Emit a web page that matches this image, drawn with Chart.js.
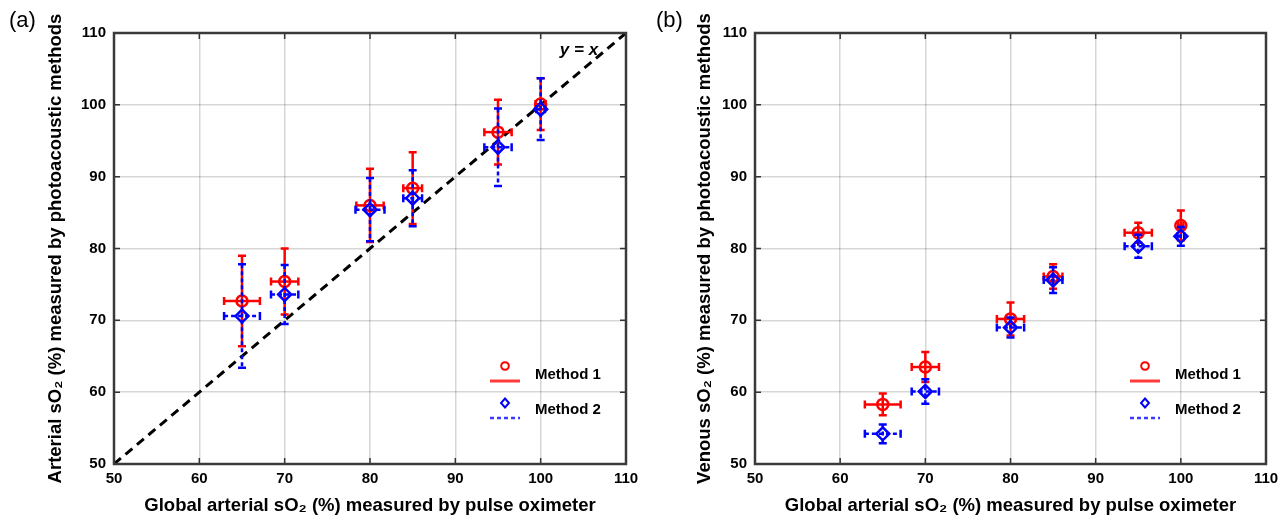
<!DOCTYPE html>
<html><head><meta charset="utf-8">
<script src="https://cdn.jsdelivr.net/npm/chart.js@4.4.1/dist/chart.umd.min.js"></script>
<style>
html,body{margin:0;padding:0;background:#fff;width:1282px;height:524px;overflow:hidden}
canvas{position:absolute;top:0}
.lbl{position:absolute;z-index:5;font-family:"Liberation Sans",Arial,sans-serif;font-size:22px;color:#000}
</style></head><body>
<canvas id="ca" style="left:0" width="641" height="524"></canvas>
<canvas id="cb" style="left:641px" width="641" height="524"></canvas>
<div class="lbl" style="left:9px;top:7px">(a)</div>
<div class="lbl" style="left:656px;top:7px">(b)</div>
<script>
// ---- data ----
const oximeterSO2 = [65, 70, 80, 85, 95, 100];
const xTicks = [50, 60, 70, 80, 90, 100, 110];
const yTicks = [50, 60, 70, 80, 90, 100, 110];
const identityLine = [50, 110];

// Panel (a): arterial
const arterialM1 = [72.7, 75.4, 86.0, 88.4, 96.2, 100.1];
const arterialM1ErrY = [6.3, 4.6, 5.1, 5.0, 4.5, 3.6];
const arterialM1ErrX = [2.1, 1.6, 1.6, 1.1, 1.6, 0.6];
const arterialM2 = [70.6, 73.6, 85.4, 87.0, 94.1, 99.4];
const arterialM2ErrY = [7.2, 4.1, 4.4, 3.9, 5.4, 4.3];
const arterialM2ErrX = [2.1, 1.6, 1.7, 1.1, 1.6, 0.5];

// Panel (b): venous
const venousM1 = [58.3, 63.5, 70.2, 76.1, 82.2, 83.2];
const venousM1ErrY = [1.5, 2.1, 2.3, 1.7, 1.4, 2.1];
const venousM1ErrX = [2.1, 1.6, 1.6, 1.1, 1.6, 0.3];
const venousM2 = [54.2, 60.1, 69.0, 75.6, 80.3, 81.7];
const venousM2ErrY = [1.3, 1.7, 1.4, 1.8, 1.6, 1.3];
const venousM2ErrX = [2.1, 1.6, 1.6, 1.1, 1.6, 0.4];

const FONT = "'Liberation Sans', Arial, sans-serif";
Chart.defaults.font.family = FONT;
Chart.defaults.color = '#000';

const RED = '#ff0000', BLUE = '#0000ff';

const errorBarPlugin = {
  id: 'errbars',
  beforeDatasetDraw(chart, args) {
    const ds = chart.data.datasets[args.index];
    if (!ds.errY) return;
    const ctx = chart.ctx, xs = chart.scales.x, ys = chart.scales.y;
    const a = chart.chartArea;
    ctx.save();
    ctx.beginPath(); ctx.rect(a.left, a.top, a.right - a.left, a.bottom - a.top); ctx.clip();
    ctx.strokeStyle = ds.borderColor; ctx.lineWidth = 2.5; ctx.lineCap = 'butt';
    ds.data.forEach((p, i) => {
      const px = xs.getPixelForValue(p.x), py = ys.getPixelForValue(p.y);
      const y1 = ys.getPixelForValue(p.y + ds.errY[i]), y2 = ys.getPixelForValue(p.y - ds.errY[i]);
      const x1 = xs.getPixelForValue(p.x - ds.errX[i]), x2 = xs.getPixelForValue(p.x + ds.errX[i]);
      ctx.setLineDash(ds.errDash);
      ctx.beginPath(); ctx.moveTo(px, y1); ctx.lineTo(px, y2); ctx.stroke();
      ctx.beginPath(); ctx.moveTo(x1, py); ctx.lineTo(x2, py); ctx.stroke();
      ctx.setLineDash([]);
      const c = 4;
      ctx.beginPath();
      ctx.moveTo(px - c, y1); ctx.lineTo(px + c, y1);
      ctx.moveTo(px - c, y2); ctx.lineTo(px + c, y2);
      ctx.moveTo(x1, py - c); ctx.lineTo(x1, py + c);
      ctx.moveTo(x2, py - c); ctx.lineTo(x2, py + c);
      ctx.stroke();
    });
    ctx.restore();
  }
};

const framePlugin = {
  id: 'frame',
  afterDraw(chart, args, opts) {
    const ctx = chart.ctx, a = chart.chartArea, xs = chart.scales.x, ys = chart.scales.y;
    ctx.save();
    ctx.strokeStyle = '#333'; ctx.lineWidth = 1.5;
    const L = 6;
    ctx.beginPath();
    xTicks.forEach(v => { const p = xs.getPixelForValue(v);
      ctx.moveTo(p, a.bottom); ctx.lineTo(p, a.bottom - L);
      ctx.moveTo(p, a.top); ctx.lineTo(p, a.top + L); });
    yTicks.forEach(v => { const p = ys.getPixelForValue(v);
      ctx.moveTo(a.left, p); ctx.lineTo(a.left + L, p);
      ctx.moveTo(a.right, p); ctx.lineTo(a.right - L, p); });
    ctx.stroke();
    ctx.strokeStyle = '#3a3a3a'; ctx.lineWidth = 2.5;
    ctx.strokeRect(a.left, a.top, a.right - a.left, a.bottom - a.top);

    // legend
    const mx = a.right - 121, tx = a.right - 91;
    ctx.lineWidth = 2; ctx.strokeStyle = RED;
    ctx.beginPath(); ctx.arc(mx, a.bottom - 98, 3.8, 0, Math.PI * 2); ctx.stroke();
    ctx.strokeStyle = '#ff3a3a'; ctx.lineWidth = 3;
    ctx.beginPath(); ctx.moveTo(mx - 15, a.bottom - 83); ctx.lineTo(mx + 15, a.bottom - 83); ctx.stroke();
    ctx.strokeStyle = BLUE; ctx.lineWidth = 2;
    const dy = a.bottom - 61;
    ctx.beginPath(); ctx.moveTo(mx, dy - 4.5); ctx.lineTo(mx + 4, dy); ctx.lineTo(mx, dy + 4.5); ctx.lineTo(mx - 4, dy); ctx.closePath(); ctx.stroke();
    ctx.strokeStyle = '#3a3aff'; ctx.lineWidth = 2.5; ctx.setLineDash([4, 3]);
    ctx.beginPath(); ctx.moveTo(mx - 15, a.bottom - 46); ctx.lineTo(mx + 15, a.bottom - 46); ctx.stroke();
    ctx.setLineDash([]);
    ctx.fillStyle = '#000'; ctx.font = "bold 15px " + FONT; ctx.textBaseline = 'middle'; ctx.textAlign = 'left';
    ctx.fillText(opts.labels[0], tx, a.bottom - 89);
    ctx.fillText(opts.labels[1], tx, a.bottom - 54);

    if (opts.identityLabel) {
      ctx.font = "italic bold 17px " + FONT; ctx.textAlign = 'center';
      ctx.fillText(opts.identityLabel, a.right - 47, a.top + 17);
    }
    ctx.restore();
  }
};

function makeChart(id, m1, m1ey, m1ex, m2, m2ey, m2ex, yTitle, yTitlePad, padRight, withIdentity) {
  const datasets = [
    { label: 'Method 2', data: oximeterSO2.map((x, i) => ({x, y: m2[i]})), errY: m2ey, errX: m2ex, errDash: [4, 3],
      borderColor: BLUE, backgroundColor: 'rgba(0,0,0,0)', pointStyle: 'rectRot', pointRadius: 6.5, borderWidth: 2.5, showLine: false, order: 0 },
    { label: 'Method 1', data: oximeterSO2.map((x, i) => ({x, y: m1[i]})), errY: m1ey, errX: m1ex, errDash: [],
      borderColor: RED, backgroundColor: 'rgba(0,0,0,0)', pointStyle: 'circle', pointRadius: 5.5, borderWidth: 2.5, showLine: false, order: 1 }
  ];
  if (withIdentity) {
    datasets.push({ type: 'line', label: 'y = x', data: identityLine.map(v => ({x: v, y: v})),
      borderColor: '#000', borderWidth: 3, borderDash: [9, 6], pointRadius: 0, fill: false, order: 2 });
  }
  return new Chart(document.getElementById(id), {
    type: 'scatter',
    data: { datasets },
    plugins: [errorBarPlugin, framePlugin],
    options: {
      responsive: false, animation: false, devicePixelRatio: 1,
      layout: { padding: { left: 0, right: padRight, top: 33, bottom: 0 } },
      plugins: { legend: { display: false }, tooltip: { enabled: false },
        frame: { labels: ['Method 1', 'Method 2'], identityLabel: withIdentity ? 'y = x' : null } },
      scales: {
        x: { type: 'linear', min: 50, max: 110,
          afterBuildTicks: s => { s.ticks = xTicks.map(v => ({value: v})); },
          afterFit: s => { s.height = 60; s.paddingLeft = 0; s.paddingRight = 0; },
          grid: { color: 'rgba(0,0,0,0.16)', lineWidth: 1.5, drawTicks: false },
          border: { display: false },
          ticks: { font: { size: 15, weight: 'bold' }, padding: 6, color: '#000', maxRotation: 0 },
          title: { display: true, text: 'Global arterial sO\u2082 (%) measured by pulse oximeter',
            font: { size: 18.5, weight: 'bold' }, color: '#000', padding: { top: 0, bottom: 7 } } },
        y: { type: 'linear', min: 50, max: 110,
          afterBuildTicks: s => { s.ticks = yTicks.map(v => ({value: v})); },
          afterFit: s => { s.width = 114; s.paddingTop = 0; s.paddingBottom = 0; },
          grid: { color: 'rgba(0,0,0,0.16)', lineWidth: 1.5, drawTicks: false },
          border: { display: false },
          ticks: { font: { size: 15, weight: 'bold' }, padding: 8, color: '#000' },
          title: { display: true, text: yTitle, font: { size: 18.5, weight: 'bold' }, color: '#000',
            padding: { top: yTitlePad, bottom: 0 } } }
      }
    }
  });
}

makeChart('ca', arterialM1, arterialM1ErrY, arterialM1ErrX, arterialM2, arterialM2ErrY, arterialM2ErrX,
  'Arterial sO\u2082 (%) measured by photoacoustic methods', 45, 15, true);
makeChart('cb', venousM1, venousM1ErrY, venousM1ErrX, venousM2, venousM2ErrY, venousM2ErrX,
  'Venous sO\u2082 (%) measured by photoacoustic methods', 53, 16, false);
</script>
</body></html>
